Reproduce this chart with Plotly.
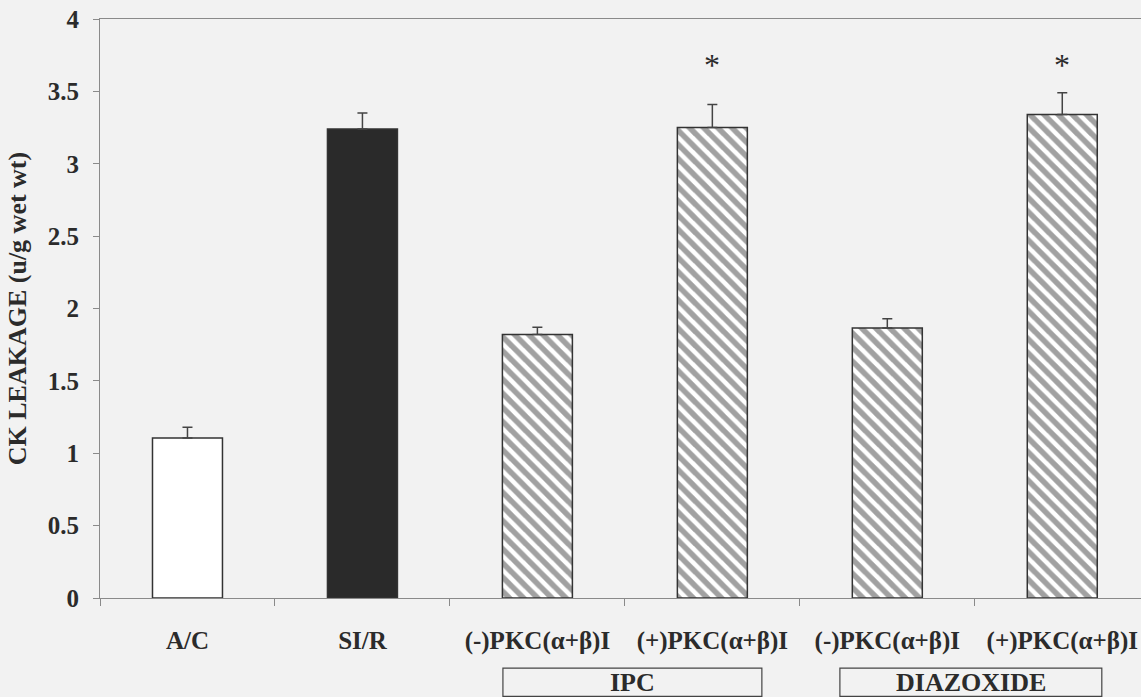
import plotly.graph_objects as go

categories = ["A/C", "SI/R", "(-)PKC(α+β)I", "(+)PKC(α+β)I", "(-)PKC(α+β)I", "(+)PKC(α+β)I"]
values = [1.105, 3.24, 1.82, 3.25, 1.865, 3.34]
errors = [0.075, 0.11, 0.05, 0.16, 0.065, 0.15]
bar_colors = ["white", "#2a2a2a", "white", "white", "white", "white"]
bar_patterns = ["", "", "\\", "\\", "\\", "\\"]
star_marks = ["", "", "", "*", "", "*"]
groups = [("IPC", 1.803, 3.283), ("DIAZOXIDE", 3.729, 5.226)]
y_ticks = [0, 0.5, 1, 1.5, 2, 2.5, 3, 3.5, 4]
y_tick_text = ["0", "0.5", "1", "1.5", "2", "2.5", "3", "3.5", "4"]
y_title = "CK LEAKAGE (u/g wet wt)"

xs = list(range(len(categories)))
FONT = "Liberation Serif"
TXT = "#2b2b2b"
BG = "#f2f2f2"
AX = "#8a8a8a"

fig = go.Figure()
fig.add_trace(go.Bar(
    x=xs, y=values, width=0.4,
    marker=dict(color=bar_colors, line=dict(color="#333333", width=1.5),
                pattern=dict(shape=bar_patterns, fgcolor="#000000", size=10, solidity=0.55)),
    error_y=dict(type="data", symmetric=False, array=errors, arrayminus=[0] * len(errors),
                 color="#444444", thickness=1.5, width=5),
    showlegend=False,
))

for i, s in enumerate(star_marks):
    if s:
        fig.add_annotation(x=xs[i], y=3.68, text=s, showarrow=False, yanchor="middle",
                           font=dict(family=FONT, size=32, color=TXT))

for name, x0, x1 in groups:
    fig.add_shape(type="rect", xref="x", yref="paper", x0=x0, x1=x1, y0=-0.17, y1=-0.121,
                  line=dict(color="#444444", width=1.2), fillcolor="rgba(0,0,0,0)")
    fig.add_annotation(x=(x0 + x1) / 2, xref="x", yref="paper", y=-0.1455, text="<b>%s</b>" % name,
                       showarrow=False, yanchor="middle",
                       font=dict(family=FONT, size=26, color=TXT))

# y-axis title placed as rotated annotation
fig.add_annotation(x=-0.079, xref="paper", y=0.5, yref="paper", text="<b>%s</b>" % y_title,
                   textangle=-90, showarrow=False, xanchor="center", yanchor="middle",
                   font=dict(family=FONT, size=26, color=TXT))

fig.update_layout(
    width=1141, height=697,
    margin=dict(l=100, r=0, t=19, b=99),
    paper_bgcolor=BG, plot_bgcolor=BG,
    font=dict(family=FONT, color=TXT),
    bargap=0.6,
)
fig.update_xaxes(
    range=[-0.5, 5.45], tickmode="array", tickvals=xs,
    ticktext=["<b>%s</b>" % c for c in categories],
    ticks="", ticklabelstandoff=20,
    tickfont=dict(family=FONT, size=25, color=TXT),
    minor=dict(tickmode="linear", tick0=0.5, dtick=1, ticks="outside", ticklen=7, tickcolor=AX, showgrid=False),
    showline=True, linecolor=AX, linewidth=1.2, mirror=True,
    showgrid=False, zeroline=False,
)
fig.update_yaxes(
    range=[0, 4], tickmode="array", tickvals=y_ticks, ticktext=["<b>%s</b>" % t for t in y_tick_text],
    ticks="outside", ticklen=6, tickcolor=AX, ticklabelstandoff=9,
    tickfont=dict(family=FONT, size=25, color=TXT),
    showline=True, linecolor=AX, linewidth=1.2,
    showgrid=False, zeroline=False,
)

fig.write_html("out.html")
